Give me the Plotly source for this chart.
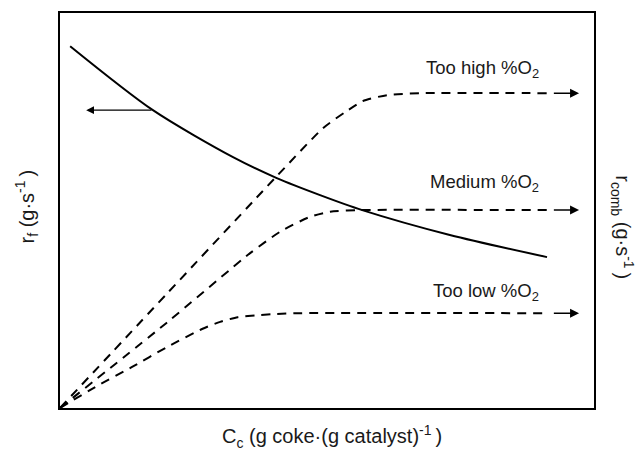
import plotly.graph_objects as go

# Coke formation rate r_f versus coke content (solid curve, left axis)
rf_x = [0.19, 1.74, 3.24, 4.06, 4.87, 5.66, 7.30, 9.12]
rf_y = [9.16, 7.54, 6.35, 5.82, 5.39, 5.01, 4.38, 3.82]

# Coke combustion rate r_comb for three oxygen levels (dashed curves, right axis)
high_x = [0.0, 2.00, 4.06, 4.93, 5.34, 5.67, 6.12, 6.74, 9.14]
high_y = [0.0, 2.89, 5.87, 7.09, 7.49, 7.77, 7.92, 7.97, 7.97]

med_x = [0.0, 2.00, 3.56, 4.12, 4.68, 5.06, 5.62, 9.14]
med_y = [0.0, 2.16, 3.92, 4.46, 4.84, 4.97, 5.01, 5.01]

low_x = [0.0, 0.66, 1.35, 2.00, 2.66, 3.00, 3.33, 3.71, 4.06, 4.49, 9.14]
low_y = [0.0, 0.53, 1.04, 1.54, 2.00, 2.18, 2.30, 2.35, 2.38, 2.40, 2.40]

curve_labels = ["Too high %O<sub>2</sub>", "Medium %O<sub>2</sub>", "Too low %O<sub>2</sub>"]
label_y = [8.58, 5.70, 2.94]

FONT = "Liberation Sans, Arial, sans-serif"
INK = "#1a1a1a"
THIN = "\u2009"

fig = go.Figure()

fig.add_trace(go.Scatter(x=rf_x, y=rf_y, mode="lines",
                         line=dict(color="black", width=2, shape="spline", smoothing=0.8),
                         showlegend=False, hoverinfo="skip"))

for xs, ys in [(high_x, high_y), (med_x, med_y), (low_x, low_y)]:
    fig.add_trace(go.Scatter(x=xs, y=ys, mode="lines",
                             line=dict(color="black", width=2, dash="9px,7px",
                                       shape="spline", smoothing=0.6),
                             showlegend=False, hoverinfo="skip"))

annotations = []

# arrow pointing from the r_f curve to the left axis
annotations.append(dict(x=0.49, y=7.54, ax=1.74, ay=7.54, xref="x", yref="y",
                        axref="x", ayref="y", text="", showarrow=True,
                        arrowhead=2, arrowsize=1.2, arrowwidth=1.3, arrowcolor="black"))

# arrows pointing from the plateaus to the right axis
for ys in [high_y, med_y, low_y]:
    annotations.append(dict(x=9.72, y=ys[-1], ax=9.22, ay=ys[-1], xref="x", yref="y",
                            axref="x", ayref="y", text="", showarrow=True,
                            arrowhead=2, arrowsize=1.2, arrowwidth=1.5, arrowcolor="black"))

for txt, yy in zip(curve_labels, label_y):
    annotations.append(dict(x=9.0, y=yy, xref="x", yref="y", text=txt,
                            showarrow=False, xanchor="right", yanchor="middle",
                            font=dict(family=FONT, size=18.5, color=INK)))

# axis titles
annotations.append(dict(x=0.509, y=-0.073, xref="paper", yref="paper",
                        text="C<sub>c</sub> (g coke·(g catalyst)<sup>-1</sup>" + THIN + ")",
                        showarrow=False, xanchor="center", yanchor="middle",
                        font=dict(family=FONT, size=20, color=INK)))
annotations.append(dict(x=-0.062, y=0.51, xref="paper", yref="paper",
                        text="r<sub>f</sub> (g·s<sup>-1</sup>" + THIN + ")", textangle=-90,
                        showarrow=False, xanchor="center", yanchor="middle",
                        font=dict(family=FONT, size=20, color=INK)))
annotations.append(dict(x=1.054, y=0.458, xref="paper", yref="paper",
                        text="r<sub>comb</sub> (g·s<sup>-1</sup>" + THIN + ")", textangle=90,
                        showarrow=False, xanchor="center", yanchor="middle",
                        font=dict(family=FONT, size=20, color=INK)))

axis_style = dict(range=[0, 10], showgrid=False, zeroline=False, showticklabels=False,
                  ticks="", showline=True, linecolor="black", linewidth=2, mirror=True,
                  fixedrange=True)

fig.update_layout(
    width=641, height=451,
    margin=dict(l=60, r=47, t=13, b=43),
    paper_bgcolor="white", plot_bgcolor="white",
    xaxis=axis_style, yaxis=axis_style,
    annotations=annotations,
    showlegend=False,
)

fig.write_html("out.html", config={"displayModeBar": False})
